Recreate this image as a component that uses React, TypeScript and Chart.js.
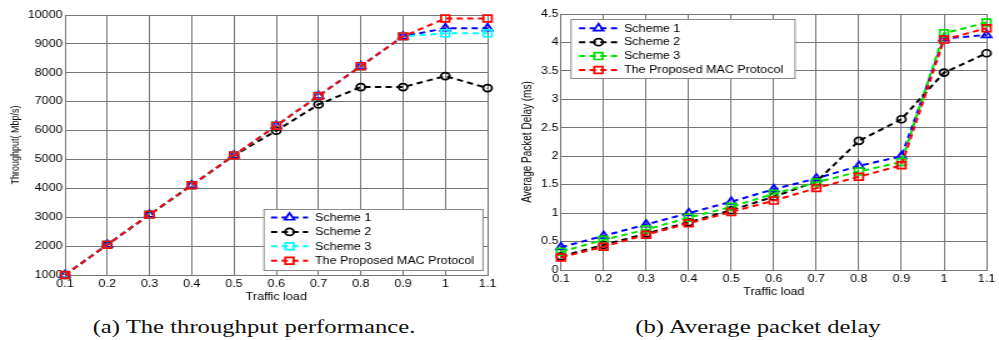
import React, { useEffect, useRef } from 'react';
import { Chart, registerables } from 'chart.js';

Chart.register(...registerables);

// ---------- data ----------
const trafficLoad = [0.1, 0.2, 0.3, 0.4, 0.5, 0.6, 0.7, 0.8, 0.9, 1.0, 1.1];
const trafficLoadLabels = ['0.1', '0.2', '0.3', '0.4', '0.5', '0.6', '0.7', '0.8', '0.9', '1', '1.1'];

const throughputTicks = [1000, 2000, 3000, 4000, 5000, 6000, 7000, 8000, 9000, 10000];
const throughputTickLabels = ['1000', '2000', '3000', '4000', '5000', '6000', '7000', '8000', '9000', '10000'];
const delayTicks = [0, 0.5, 1, 1.5, 2, 2.5, 3, 3.5, 4, 4.5];
const delayTickLabels = ['0', '0.5', '1', '1.5', '2', '2.5', '3', '3.5', '4', '4.5'];

const throughputScheme1 = [1000, 2050, 3090, 4110, 5140, 6170, 7200, 8230, 9260, 9540, 9540];
const throughputScheme2 = [1000, 2050, 3090, 4110, 5140, 5995, 6905, 7505, 7505, 7885, 7470];
const throughputScheme3 = [1000, 2050, 3090, 4110, 5140, 6170, 7200, 8230, 9260, 9365, 9365];
const throughputProposed = [1000, 2050, 3090, 4110, 5140, 6170, 7200, 8230, 9260, 9880, 9880];

const delayScheme1 = [0.4, 0.6, 0.8, 1.0, 1.2, 1.42, 1.61, 1.83, 2.0, 4.07, 4.13];
const delayScheme2 = [0.24, 0.44, 0.64, 0.84, 1.05, 1.29, 1.55, 2.27, 2.65, 3.47, 3.81];
const delayScheme3 = [0.32, 0.53, 0.71, 0.92, 1.11, 1.34, 1.54, 1.73, 1.9, 4.16, 4.35];
const delayProposed = [0.22, 0.41, 0.62, 0.82, 1.02, 1.22, 1.44, 1.64, 1.84, 4.05, 4.25];

const seriesNames = ['Scheme 1', 'Scheme 2', 'Scheme 3', 'The Proposed MAC Protocol'];

// ---------- styling ----------
const SX = 1.25; // horizontal stretch of the original figure
const GRID = '#767676';
const FONT = '"Liberation Sans", Arial, sans-serif';

function drawMarker(ctx: CanvasRenderingContext2D, style: string, x: number, y: number, r: number) {
  ctx.beginPath();
  if (style === 'circle') {
    ctx.arc(x, y, r, 0, Math.PI * 2);
  } else if (style === 'rect') {
    const h = r * Math.SQRT1_2;
    ctx.rect(x - h, y - h, 2 * h, 2 * h);
  } else if (style === 'triangle') {
    let a = 0;
    ctx.moveTo(x + Math.sin(a) * r, y - Math.cos(a) * r);
    a += (2 * Math.PI) / 3;
    ctx.lineTo(x + Math.sin(a) * r, y - Math.cos(a) * r);
    a += (2 * Math.PI) / 3;
    ctx.lineTo(x + Math.sin(a) * r, y - Math.cos(a) * r);
    ctx.closePath();
  }
  ctx.stroke();
}

const boxLegend = {
  id: 'boxLegend',
  afterDraw(chart: any, _args: any, opts: any) {
    if (!opts || opts.x1 === undefined) return;
    const s = opts.sx;
    const ctx: CanvasRenderingContext2D = chart.ctx;
    ctx.save();
    const x1 = opts.x1 / s, x2 = opts.x2 / s;
    ctx.fillStyle = '#fff';
    ctx.fillRect(x1, opts.y1, x2 - x1, opts.y2 - opts.y1);
    ctx.strokeStyle = '#8a8a8a';
    ctx.lineWidth = 1;
    ctx.strokeRect(x1, opts.y1 + 0.5, x2 - x1, opts.y2 - opts.y1);
    chart.data.datasets.forEach((ds: any, i: number) => {
      const y = opts.row0 + i * opts.rowStep;
      const a = opts.lx1 / s, b = opts.lx2 / s;
      ctx.strokeStyle = ds.borderColor;
      ctx.lineWidth = ds.borderWidth;
      ctx.setLineDash(ds.borderDash);
      ctx.beginPath();
      ctx.moveTo(a, y);
      ctx.lineTo(b, y);
      ctx.stroke();
      ctx.setLineDash([]);
      ctx.lineWidth = ds.pointBorderWidth;
      drawMarker(ctx, ds.pointStyle, (a + b) / 2, y, ds.pointRadius);
      ctx.fillStyle = '#000';
      ctx.font = `10px ${FONT}`;
      ctx.textBaseline = 'middle';
      ctx.textAlign = 'left';
      ctx.fillText(ds.label, opts.tx / s, y + 0.5);
    });
    ctx.restore();
  },
};

function dataset(label: string, values: number[], color: string, style: string, radius: number, order: number) {
  return {
    label,
    order,
    clip: false,
    data: trafficLoad.map((x, i) => ({ x, y: values[i] })),
    borderColor: color,
    borderWidth: 2,
    borderDash: [5, 3.5],
    pointStyle: style,
    pointRadius: radius,
    pointBorderWidth: 1.7,
    pointBorderColor: color,
    pointBackgroundColor: 'rgba(0,0,0,0)',
    fill: false,
    tension: 0,
  };
}

function makeScales(opts: {
  yMin: number; yMax: number; yTicks: number[]; yLabels: string[]; yWidth: number;
  yTitle: string; yTitleSize: number; yTitlePad: number; xHeight: number; xTitlePad: number;
}) {
  return {
    x: {
      type: 'linear',
      min: 0.1,
      max: 1.1,
      afterBuildTicks: (s: any) => { s.ticks = trafficLoad.map((v) => ({ value: v })); },
      afterFit: (s: any) => { s.height = opts.xHeight; },
      grid: { color: GRID, lineWidth: 1, drawTicks: false },
      border: { display: true, color: GRID },
      ticks: {
        padding: 3,
        color: '#000',
        font: { family: FONT, size: 10 },
        maxRotation: 0,
        autoSkip: false,
        callback: (_v: any, i: number) => trafficLoadLabels[i],
      },
      title: {
        display: true,
        text: 'Traffic load',
        color: '#000',
        font: { family: FONT, size: 10 },
        padding: { top: 0, bottom: opts.xTitlePad },
      },
    },
    y: {
      type: 'linear',
      min: opts.yMin,
      max: opts.yMax,
      afterBuildTicks: (s: any) => { s.ticks = opts.yTicks.map((v) => ({ value: v })); },
      afterFit: (s: any) => { s.width = opts.yWidth; },
      grid: { color: GRID, lineWidth: 1, drawTicks: false },
      border: { display: true, color: GRID },
      ticks: {
        padding: 2,
        color: '#000',
        font: { family: FONT, size: 10 },
        autoSkip: false,
        callback: (_v: any, i: number) => opts.yLabels[i],
      },
      title: {
        display: true,
        text: opts.yTitle,
        color: '#000',
        font: { family: FONT, size: opts.yTitleSize },
        padding: { top: opts.yTitlePad, bottom: 0 },
      },
    },
  };
}

export default function App() {
  const leftRef = useRef<HTMLCanvasElement | null>(null);
  const rightRef = useRef<HTMLCanvasElement | null>(null);

  useEffect(() => {
    const charts: Chart[] = [];
    if (leftRef.current) {
      charts.push(
        new Chart(leftRef.current, {
          type: 'line',
          data: {
            datasets: [
              dataset(seriesNames[0], throughputScheme1, '#0000ff', 'triangle', 4.5, 3),
              dataset(seriesNames[1], throughputScheme2, '#000000', 'circle', 3.5, 2),
              dataset(seriesNames[2], throughputScheme3, '#00ffff', 'rect', 4.8, 1),
              dataset(seriesNames[3], throughputProposed, '#ff0000', 'rect', 4.8, 0),
            ],
          } as any,
          options: {
            animation: false,
            responsive: false,
            maintainAspectRatio: false,
            layout: { autoPadding: false, padding: { left: 0, right: 9 / SX, top: 15, bottom: 0 } },
            plugins: {
              legend: { display: false },
              tooltip: { enabled: false },
              boxLegend: {
                sx: SX, x1: 264, x2: 483, y1: 209, y2: 270,
                lx1: 271, lx2: 308, tx: 315, row0: 217.5, rowStep: 14.4,
              },
            } as any,
            scales: makeScales({
              yMin: 1000, yMax: 10000, yTicks: throughputTicks, yLabels: throughputTickLabels,
              yWidth: 65 / SX, yTitle: 'Throughput( Mbp/s)', yTitleSize: 9, yTitlePad: 7,
              xHeight: 30, xTitlePad: 2,
            }) as any,
          },
          plugins: [boxLegend as any],
        })
      );
    }
    if (rightRef.current) {
      const sx = 499 / 399;
      charts.push(
        new Chart(rightRef.current, {
          type: 'line',
          data: {
            datasets: [
              dataset(seriesNames[0], delayScheme1, '#0000ff', 'triangle', 4.5, 3),
              dataset(seriesNames[1], delayScheme2, '#000000', 'circle', 3.5, 2),
              dataset(seriesNames[2], delayScheme3, '#00e000', 'rect', 4.8, 1),
              dataset(seriesNames[3], delayProposed, '#ff0000', 'rect', 4.8, 0),
            ],
          } as any,
          options: {
            animation: false,
            responsive: false,
            maintainAspectRatio: false,
            layout: { autoPadding: false, padding: { left: 0, right: 3 / sx, top: 14, bottom: 0 } },
            plugins: {
              legend: { display: false },
              tooltip: { enabled: false },
              boxLegend: {
                sx, x1: 71, x2: 295, y1: 19, y2: 78,
                lx1: 79, lx2: 118, tx: 124, row0: 28.3, rowStep: 13.9,
              },
            } as any,
            scales: makeScales({
              yMin: 0, yMax: 4.5, yTicks: delayTicks, yLabels: delayTickLabels,
              yWidth: 61 / sx, yTitle: 'Average Packet Delay (ms)', yTitleSize: 10, yTitlePad: 16,
              xHeight: 30, xTitlePad: 2,
            }) as any,
          },
          plugins: [boxLegend as any],
        })
      );
    }
    return () => charts.forEach((c) => c.destroy());
  }, []);

  const captionStyle: React.CSSProperties = {
    position: 'absolute',
    top: 317,
    fontFamily: '"Liberation Serif", "Times New Roman", serif',
    fontSize: 18,
    lineHeight: '20px',
    color: '#111',
    whiteSpace: 'nowrap',
    transform: 'translateX(-50%) scaleX(1.37)',
    transformOrigin: 'center',
  };

  return (
    <div style={{ position: 'absolute', left: 0, top: 0, width: 999, height: 340, background: '#fff', overflow: 'hidden' }}>
      <canvas
        ref={leftRef}
        width={400}
        height={305}
        style={{ position: 'absolute', left: 0, top: 0, width: 500, height: 305 }}
      />
      <canvas
        ref={rightRef}
        width={399}
        height={300}
        style={{ position: 'absolute', left: 500, top: 0, width: 499, height: 300 }}
      />
      <div style={{ ...captionStyle, left: 254 }}>(a) The throughput performance.</div>
      <div style={{ ...captionStyle, left: 758 }}>(b) Average packet delay</div>
    </div>
  );
}
